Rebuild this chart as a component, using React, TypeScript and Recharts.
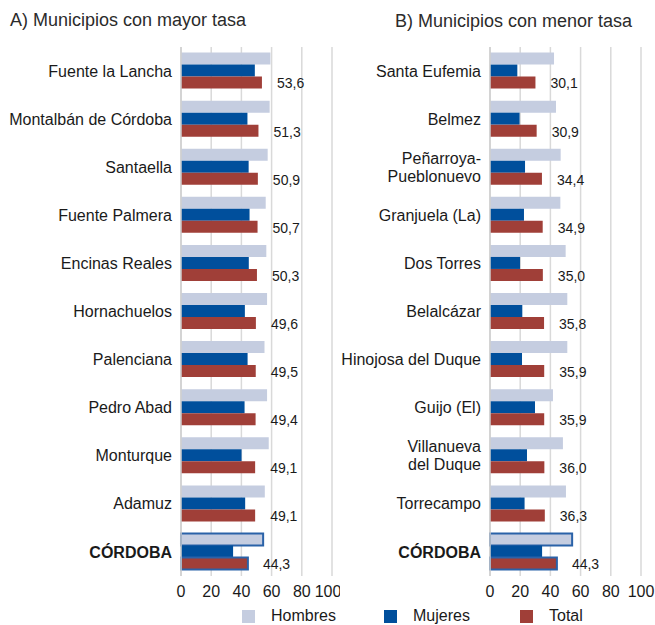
import React from 'react';
import { BarChart, Bar, XAxis, YAxis, CartesianGrid, Cell } from 'recharts';

const categoriesA = [
  'Fuente la Lancha',
  'Montalbán de Córdoba',
  'Santaella',
  'Fuente Palmera',
  'Encinas Reales',
  'Hornachuelos',
  'Palenciana',
  'Pedro Abad',
  'Monturque',
  'Adamuz',
  'CÓRDOBA'
];
const hombresA = [59.2, 58.7, 57.4, 56.1, 56.5, 57.0, 55.3, 57.0, 58.1, 55.5, 54.4];
const mujeresA = [48.9, 44.0, 44.8, 45.4, 44.9, 42.3, 44.1, 42.1, 40.1, 42.5, 34.5];
const totalA = [53.6, 51.3, 50.9, 50.7, 50.3, 49.6, 49.5, 49.4, 49.1, 49.1, 44.3];

const categoriesB = [
  'Santa Eufemia',
  'Belmez',
  'Peñarroya-\nPueblonuevo',
  'Granjuela (La)',
  'Dos Torres',
  'Belalcázar',
  'Hinojosa del Duque',
  'Guijo (El)',
  'Villanueva\ndel Duque',
  'Torrecampo',
  'CÓRDOBA'
];
const hombresB = [42.4, 43.7, 46.8, 46.6, 50.1, 51.2, 51.2, 41.7, 48.3, 50.3, 54.4];
const mujeresB = [18.1, 19.6, 23.2, 22.5, 19.9, 21.4, 21.2, 29.8, 24.5, 22.9, 34.5];
const totalB = [30.1, 30.9, 34.4, 34.9, 35.0, 35.8, 35.9, 35.9, 36.0, 36.3, 44.3];

const xTicks = [0, 20, 40, 60, 80, 100];

const COLORS = {
  hombres: '#c5cde0',
  mujeres: '#004f9c',
  total: '#a03f38',
  highlight: '#2a62a8'
};
const FONT = '"Liberation Sans", Arial, sans-serif';

function CategoryTick(props: any) {
  const { x, y, payload } = props;
  const lines = String(payload.value).split('\n');
  const bold = payload.value === 'CÓRDOBA';
  const lh = 18;
  const start = y - ((lines.length - 1) * lh) / 2 + 5.6;
  return (
    <text textAnchor="end" fontSize={16} fill="#1a1a1a" fontWeight={bold ? 700 : 400} fontFamily={FONT}>
      {lines.map((l, i) => (
        <tspan key={i} x={x} y={start + i * lh}>
          {l}
        </tspan>
      ))}
    </text>
  );
}

const fmt = (v: number) => v.toFixed(1).replace('.', ',');

function TotalLabel(props: any) {
  const { x, y, width, height, value } = props;
  return (
    <text x={x + width + 15} y={y + height / 2 + 1} dy="0.35em" fontSize={14} fill="#1a1a1a" fontFamily={FONT}>
      {fmt(value)}
    </text>
  );
}

function Panel({ categories, hombres, mujeres, total, left, width, yWidth }: any) {
  const data = categories.map((c: string, i: number) => ({
    name: c,
    hombres: hombres[i],
    mujeres: mujeres[i],
    total: total[i]
  }));
  const last = categories.length - 1;
  return (
    <div style={{ position: 'absolute', left, top: 0 }}>
      <BarChart
        width={width}
        height={600}
        data={data}
        layout="vertical"
        margin={{ top: 47, right: width - yWidth - 151, bottom: 0, left: 0 }}
        barCategoryGap="11.6%"
        barGap={0}
      >
        <CartesianGrid horizontal={false} stroke="#d9d9d9" strokeWidth={1.5} />
        <XAxis
          type="number"
          domain={[0, 100]}
          ticks={xTicks}
          axisLine={false}
          tickLine={false}
          tickSize={0}
          tickMargin={10}
          height={24}
          tick={{ fontSize: 16, fill: '#1a1a1a', fontFamily: FONT }}
        />
        <YAxis
          type="category"
          dataKey="name"
          width={yWidth}
          axisLine={{ stroke: '#cfcfcf', strokeWidth: 1.5 }}
          tickLine={false}
          tickSize={0}
          tickMargin={9}
          interval={0}
          tick={<CategoryTick />}
        />
        <Bar dataKey="hombres" fill={COLORS.hombres} isAnimationActive={false}>
          {data.map((_: any, i: number) => (
            <Cell
              key={i}
              fill={COLORS.hombres}
              stroke={i === last ? COLORS.highlight : 'none'}
              strokeWidth={i === last ? 2 : 0}
            />
          ))}
        </Bar>
        <Bar dataKey="mujeres" fill={COLORS.mujeres} isAnimationActive={false} />
        <Bar dataKey="total" fill={COLORS.total} isAnimationActive={false} label={<TotalLabel />}>
          {data.map((_: any, i: number) => (
            <Cell
              key={i}
              fill={COLORS.total}
              stroke={i === last ? COLORS.highlight : 'none'}
              strokeWidth={i === last ? 2 : 0}
            />
          ))}
        </Bar>
      </BarChart>
    </div>
  );
}

const legendItems = [
  { label: 'Hombres', color: COLORS.hombres, x: 242 },
  { label: 'Mujeres', color: COLORS.mujeres, x: 384 },
  { label: 'Total', color: COLORS.total, x: 520 }
];

export default function App() {
  return (
    <div
      style={{
        position: 'absolute',
        left: 0,
        top: 0,
        width: 655,
        height: 625,
        background: '#fff',
        fontFamily: FONT,
        overflow: 'hidden'
      }}
    >
      <div style={{ position: 'absolute', left: 10, top: 9, fontSize: 18, color: '#2b2b2b', lineHeight: '22px' }}>
        A) Municipios con mayor tasa
      </div>
      <div style={{ position: 'absolute', left: 395, top: 10, fontSize: 18, color: '#2b2b2b', lineHeight: '22px' }}>
        B) Municipios con menor tasa
      </div>
      <Panel
        categories={categoriesA}
        hombres={hombresA}
        mujeres={mujeresA}
        total={totalA}
        left={0}
        width={340}
        yWidth={181}
      />
      <Panel
        categories={categoriesB}
        hombres={hombresB}
        mujeres={mujeresB}
        total={totalB}
        left={340}
        width={315}
        yWidth={150}
      />
      {legendItems.map((it) => (
        <div key={it.label} style={{ position: 'absolute', left: it.x, top: 606, height: 20, display: 'flex', alignItems: 'center' }}>
          <div style={{ width: 13, height: 13, background: it.color }} />
          <span style={{ marginLeft: 16, fontSize: 16, color: '#1a1a1a', lineHeight: '18px' }}>{it.label}</span>
        </div>
      ))}
    </div>
  );
}
